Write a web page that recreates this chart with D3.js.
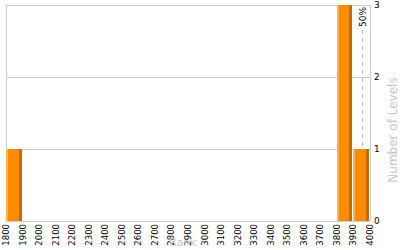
<!DOCTYPE html>
<html><head><meta charset="utf-8">
<script src="https://cdn.jsdelivr.net/npm/d3@7"></script>
<style>
html,body{margin:0;padding:0;background:#fff;}
svg{display:block;font-family:"DejaVu Sans",Verdana,sans-serif;}
</style></head>
<body><svg id="c" width="400" height="250"></svg>
<script>
const binStarts = [1800, 3800, 3900];
const binCounts = [1, 3, 1];
const xTicks = [1800,1900,2000,2100,2200,2300,2400,2500,2600,2700,2800,2900,3000,3100,3200,3300,3400,3500,3600,3700,3800,3900,4000];
const yTicks = [0,1,2,3];
const binWidth = 100;
const medianRank = 3950;
const medianLabel = "50%";
const xTitle = "Rank";
const yTitle = "Number of Levels";

const svg = d3.select("#c");
const L = 6, R = 370, T = 5, B = 221;
const x = d3.scaleLinear().domain([1800, 4000]).range([L, R]);
const y = d3.scaleLinear().domain([0, 3]).range([B, T]);

// grid
svg.append("g").selectAll("line").data(yTicks).join("line")
  .attr("x1", L).attr("x2", R).attr("y1", d => y(d) + 0.5).attr("y2", d => y(d) + 0.5)
  .attr("stroke", "#cccccc").attr("stroke-width", 1);
svg.append("line").attr("x1", L + 0.5).attr("x2", L + 0.5).attr("y1", T).attr("y2", B)
  .attr("stroke", "#cccccc");
svg.append("line").attr("x1", R + 0.5).attr("x2", R + 0.5).attr("y1", T).attr("y2", B)
  .attr("stroke", "#cccccc");

// median dashed line
svg.append("line").attr("x1", Math.round(x(medianRank)) + 0.5).attr("x2", Math.round(x(medianRank)) + 0.5)
  .attr("y1", T + 25).attr("y2", B).attr("stroke", "#bbbbbb").attr("stroke-dasharray", "4,4");
svg.append("text").attr("transform", `translate(${Math.round(x(medianRank)) + 4},${T + 2}) rotate(-90)`)
  .attr("text-anchor", "end").attr("font-size", 9).attr("fill", "#000").text(medianLabel);

// bars
const bars = svg.append("g").selectAll("g").data(binStarts.map((s, i) => ({s, c: binCounts[i]}))).join("g");
bars.each(function(d) {
  const g = d3.select(this);
  const x0 = Math.round(x(d.s)), x1 = Math.round(x(d.s + binWidth)) - 1;
  const y0 = Math.round(y(d.c)), h = B - y0;
  g.append("rect").attr("x", x0).attr("y", y0).attr("width", x1 - x0).attr("height", h).attr("fill", "#ff8c00");
  g.append("rect").attr("x", x0).attr("y", y0).attr("width", 2).attr("height", h).attr("fill", "#ffb24d");
  g.append("rect").attr("x", x1 - 3).attr("y", y0).attr("width", 3).attr("height", h).attr("fill", "#c46a00");
});

// x tick labels
svg.append("g").selectAll("text").data(xTicks).join("text")
  .attr("transform", d => `translate(${x(d) + 3},${B + 3}) rotate(-90)`)
  .attr("text-anchor", "end").attr("font-size", 8.5).attr("fill", "#000")
  .text(d => d);

// y tick labels (right)
svg.append("g").selectAll("text").data(yTicks).join("text")
  .attr("x", R + 4).attr("y", d => y(d) + 3)
  .attr("font-size", 9).attr("fill", "#000").text(d => d);

// titles
svg.append("text").attr("x", 183).attr("y", 246).attr("text-anchor", "middle")
  .attr("font-size", 11).attr("fill", "#c8c8c8").text(xTitle);
svg.append("text").attr("transform", "translate(397,130) rotate(-90)").attr("text-anchor", "middle")
  .attr("font-size", 12).attr("fill", "#c8c8c8").text(yTitle);
</script></body></html>
